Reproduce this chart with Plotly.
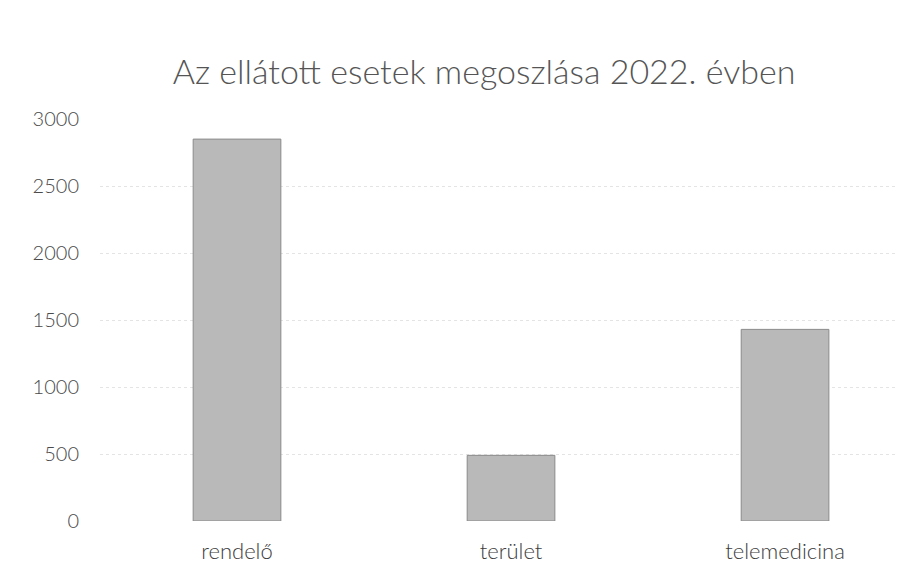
import plotly.graph_objects as go

categories = ["rendelő", "terület", "telemedicina"]
values = [2850, 490, 1430]
y_ticks = [0, 500, 1000, 1500, 2000, 2500, 3000]
title_text = "Az ellátott esetek megoszlása 2022. évben"

fig = go.Figure()
fig.add_trace(go.Bar(
    x=categories, y=values,
    marker=dict(color="#b9b9b9", line=dict(color="#8a8a8a", width=1)),
    width=0.32,
))

fig.update_layout(
    width=905, height=579,
    margin=dict(l=92, r=0, t=111, b=66),
    paper_bgcolor="white", plot_bgcolor="white",
    showlegend=False,
    font=dict(family="Lato, sans-serif", color="#555555", size=17),
    title=dict(text=title_text, x=0.526, xanchor="center", y=0.889, yanchor="middle",
               font=dict(size=34, color="#555555", family="Lato, sans-serif", weight=300)),
    xaxis=dict(range=[-0.5, 2.467], showgrid=False, showline=False, ticks="",
               ticklabelstandoff=15,
               tickfont=dict(size=22, color="#3c3c3c", family="Lato, sans-serif", weight=300)),
    yaxis=dict(range=[0, 3000], tickvals=y_ticks, showgrid=True, gridcolor="#e4e4e4",
               griddash="dot", gridwidth=1, zeroline=False, showline=False,
               ticklabelstandoff=20,
               tickfont=dict(size=20, color="#4a4a4a", family="Lato, sans-serif", weight=300)),
)

fig.write_html("out.html")
